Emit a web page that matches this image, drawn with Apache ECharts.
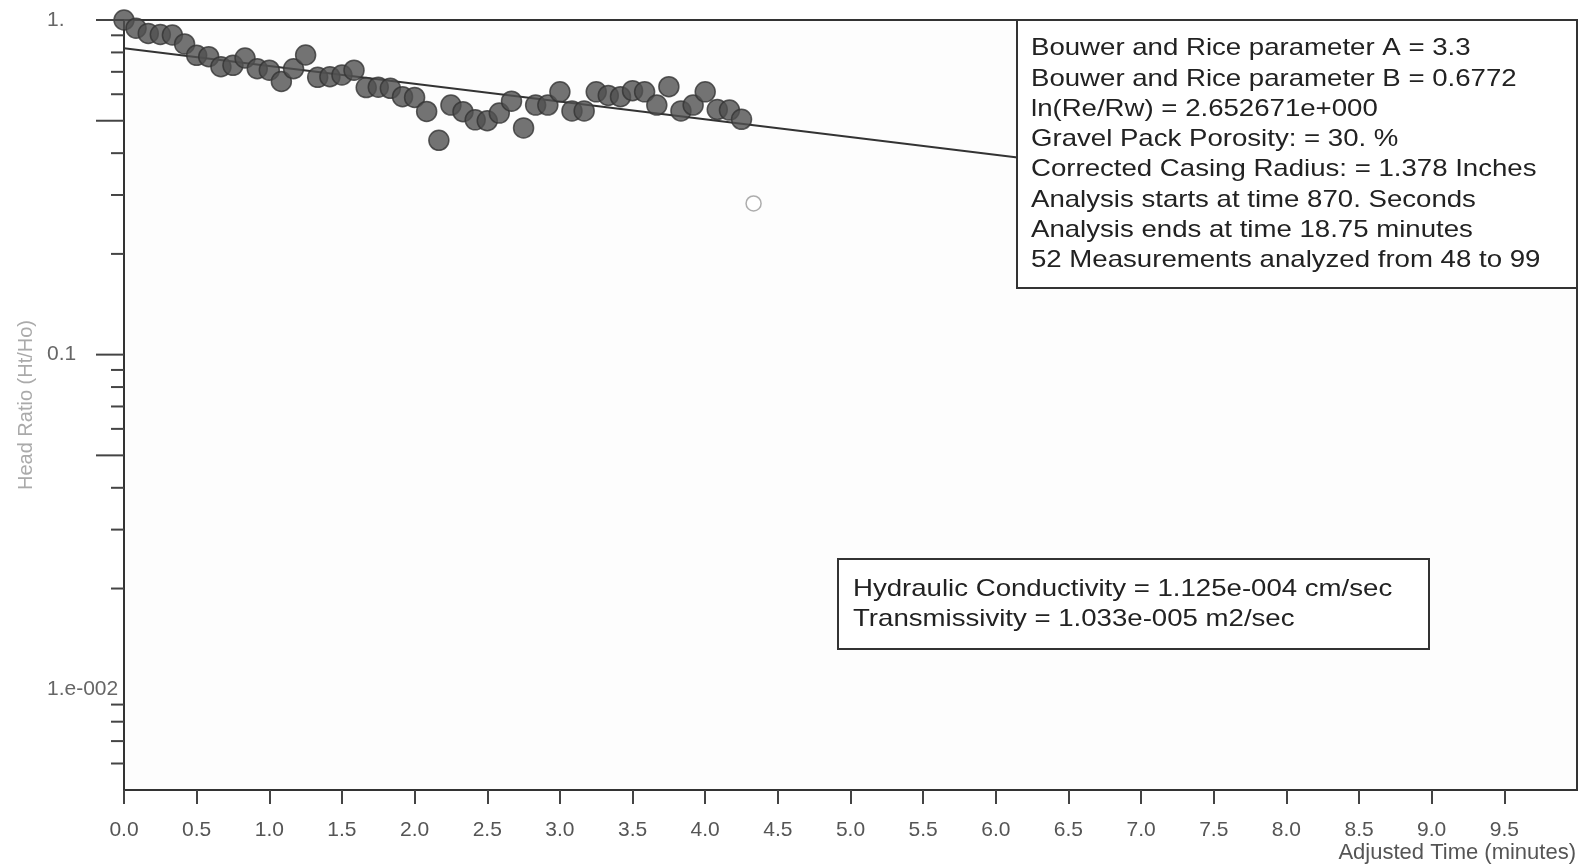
<!DOCTYPE html>
<html>
<head>
<meta charset="utf-8">
<script src="https://cdn.jsdelivr.net/npm/echarts@6/dist/echarts.min.js"></script>
<style>
html,body{margin:0;padding:0;background:#fff;}
#chart{width:1587px;height:866px;}
</style>
</head>
<body>
<div id="chart"></div>
<script>
// ---- data ----
const timeMinutes = [0.000,0.083,0.167,0.250,0.333,0.417,0.500,0.583,0.667,0.750,0.833,0.917,1.000,1.083,1.167,1.250,1.333,1.417,1.500,1.583,1.667,1.750,1.833,1.917,2.000,2.083,2.167,2.250,2.333,2.417,2.500,2.583,2.667,2.750,2.833,2.917,3.000,3.083,3.167,3.250,3.333,3.417,3.500,3.583,3.667,3.750,3.833,3.917,4.000,4.083,4.167,4.250];
const headRatio = [1.0,0.945,0.912,0.905,0.902,0.848,0.784,0.777,0.725,0.732,0.77,0.715,0.708,0.655,0.715,0.786,0.674,0.677,0.685,0.708,0.628,0.630,0.625,0.590,0.587,0.533,0.437,0.557,0.532,0.503,0.500,0.527,0.572,0.476,0.557,0.557,0.610,0.535,0.535,0.610,0.595,0.590,0.615,0.610,0.557,0.632,0.535,0.557,0.610,0.540,0.538,0.505];
const excludedTime = [4.333];
const excludedRatio = [0.283];
const fitTime = [0, 6.15];
const fitRatio = [0.823, 0.388];
const xTickLabels = ['0.0','0.5','1.0','1.5','2.0','2.5','3.0','3.5','4.0','4.5','5.0','5.5','6.0','6.5','7.0','7.5','8.0','8.5','9.0','9.5'];
const yLabelValues = [1, 0.1, 0.01];
const yLabelTexts = ['1.', '0.1', '1.e-002'];
const yLongTicks = [1, 0.5, 0.1, 0.05];
const yShortTicks = [0.9,0.8,0.7,0.6,0.4,0.3,0.2,0.09,0.08,0.07,0.06,0.04,0.03,0.02,0.009,0.008,0.007,0.006];
const xAxisTitle = 'Adjusted Time (minutes)';
const yAxisTitle = 'Head Ratio (Ht/Ho)';
const paramLines = [
  'Bouwer and Rice parameter A = 3.3',
  'Bouwer and Rice parameter B = 0.6772',
  'ln(Re/Rw) = 2.652671e+000',
  'Gravel Pack Porosity: = 30. %',
  'Corrected Casing Radius: = 1.378 Inches',
  'Analysis starts at time 870. Seconds',
  'Analysis ends at time 18.75 minutes',
  '52 Measurements analyzed from 48 to 99'
];
const resultLines = [
  'Hydraulic Conductivity = 1.125e-004 cm/sec',
  'Transmissivity = 1.033e-005 m2/sec'
];

// ---- build ----
const FONT = '"Liberation Sans", Arial, sans-serif';
const chart = echarts.init(document.getElementById('chart'), null, {renderer: 'canvas'});

const pts = timeMinutes.map((t, i) => [t, headRatio[i]]);
const excl = excludedTime.map((t, i) => [t, excludedRatio[i]]);
const fit = fitTime.map((t, i) => [t, fitRatio[i]]);
const tickData = yLongTicks.map(v => [0, v, 1]).concat(yShortTicks.map(v => [0, v, 0]));

function yFmt(v) {
  for (let k = 0; k < yLabelValues.length; k++) {
    if (Math.abs(v - yLabelValues[k]) < yLabelValues[k] * 1e-6) return yLabelTexts[k];
  }
  return '';
}
function xFmt(v) {
  const idx = Math.round(v * 2);
  return idx < xTickLabels.length ? xTickLabels[idx] : '';
}

const option = {
  animation: false,
  backgroundColor: '#ffffff',
  textStyle: {fontFamily: FONT},
  grid: {
    left: 124, right: 10, top: 20, bottom: 76,
    show: true, backgroundColor: '#fdfdfd', borderColor: '#333', borderWidth: 2
  },
  xAxis: {
    type: 'value', min: 0, max: 10, interval: 0.5,
    splitLine: {show: false},
    axisLine: {show: true, lineStyle: {color: '#333', width: 2}},
    axisTick: {show: true, inside: false, length: 14, lineStyle: {color: '#444', width: 2}},
    axisLabel: {formatter: xFmt, fontSize: 21, color: '#555', margin: 30, fontFamily: FONT, showMaxLabel: false},
    name: xAxisTitle, nameLocation: 'end', nameGap: -1,
    nameTextStyle: {fontSize: 22, color: '#555', align: 'right', verticalAlign: 'top', padding: [52, 0, 0, 0], fontFamily: FONT}
  },
  yAxis: {
    type: 'log', logBase: 10, min: 0.005, max: 1,
    splitLine: {show: false},
    axisLine: {show: true, lineStyle: {color: '#333', width: 2}},
    axisTick: {show: false},
    axisLabel: {formatter: yFmt, fontSize: 21, color: '#666', align: 'left', margin: 77, fontFamily: FONT},
    name: yAxisTitle, nameLocation: 'middle', nameGap: 86, nameRotate: 90,
    nameTextStyle: {fontSize: 20, color: '#aaa', fontFamily: FONT}
  },
  graphic: [
    {
      type: 'group', z: 100,
      children: [
        {type: 'rect', shape: {x: 1017, y: 20, width: 560, height: 268}, style: {fill: '#fff', stroke: '#333', lineWidth: 2}},
        {type: 'text', x: 1031, y: 33.5, scaleX: 1.15, style: {text: paramLines.join('\n'), font: '24px ' + FONT, lineHeight: 30.3, fill: '#222', verticalAlign: 'top'}},
        {type: 'rect', shape: {x: 838, y: 559, width: 591, height: 90}, style: {fill: '#fff', stroke: '#333', lineWidth: 2}},
        {type: 'text', x: 853, y: 574, scaleX: 1.15, style: {text: resultLines.join('\n'), font: '24px ' + FONT, lineHeight: 30.3, fill: '#222', verticalAlign: 'top'}}
      ]
    }
  ],
  series: [
    {
      type: 'line', data: fit, showSymbol: false, symbol: 'none',
      lineStyle: {color: '#333', width: 2}, z: 2, silent: true
    },
    {
      type: 'scatter', data: pts, symbol: 'circle', symbolSize: 20,
      itemStyle: {color: '#505050', borderColor: '#333', borderWidth: 1.5}, z: 3, silent: true
    },
    {
      type: 'scatter', data: excl, symbol: 'circle', symbolSize: 15,
      itemStyle: {color: '#fff', borderColor: '#999', borderWidth: 1.5}, z: 3, silent: true
    },
    {
      type: 'custom', data: tickData, clip: false, silent: true, z: 4,
      encode: {x: 0, y: 1},
      renderItem: function (params, api) {
        const p = api.coord([0, api.value(1)]);
        const len = api.value(2) ? 28 : 13;
        return {type: 'line', shape: {x1: p[0] - len, y1: p[1], x2: p[0], y2: p[1]}, style: {stroke: '#444', lineWidth: 2}};
      }
    }
  ]
};
chart.setOption(option);
</script>
</body>
</html>
